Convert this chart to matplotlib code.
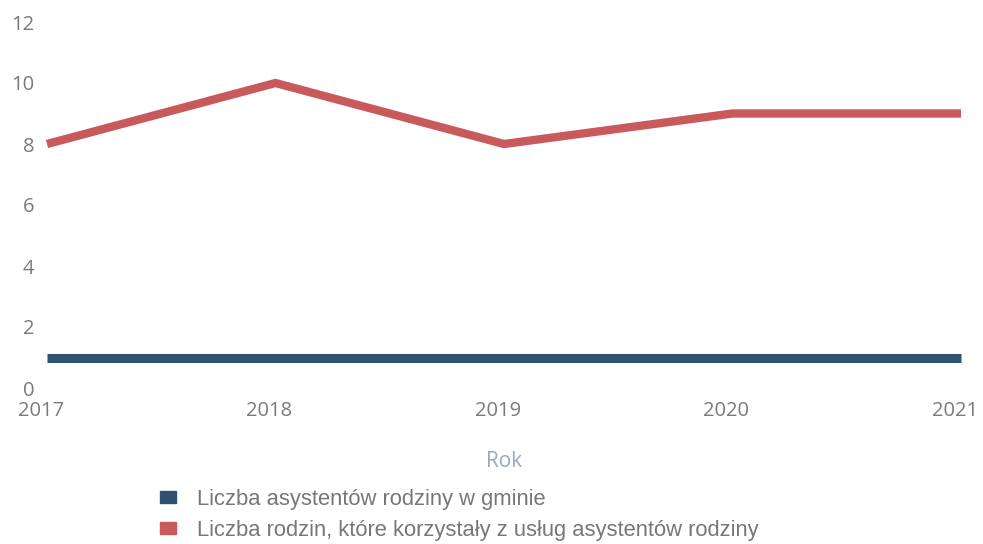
import matplotlib
matplotlib.use("Agg")
import matplotlib.pyplot as plt
from matplotlib.patches import Patch
from matplotlib.transforms import ScaledTranslation

years = [2017, 2018, 2019, 2020, 2021]
asystenci = [1, 1, 1, 1, 1]
rodziny = [8, 10, 8, 9, 9]
yticks = [0, 2, 4, 6, 8, 10, 12]
label_a = "Liczba asystentów rodziny w gminie"
label_r = "Liczba rodzin, które korzystały z usług asystentów rodziny"
blue = "#2f5272"
red = "#c95a5c"
tick_color = "#7a7a7a"

plt.rcParams['font.family'] = ['Open Sans', 'DejaVu Sans']

W, H = 983, 544
fig = plt.figure(figsize=(W / 100, H / 100), dpi=100)
left, right = 47 / W, 961 / W
bottom, top = 1 - 388 / H, 1 - 22 / H
ax = fig.add_axes([left, bottom, right - left, top - bottom])

ax.plot(years, asystenci, color=blue, lw=6.5, solid_capstyle='butt', clip_on=False)
ax.plot(years, rodziny, color=red, lw=6, solid_capstyle='butt', solid_joinstyle='miter', clip_on=False)

ax.set_xlim(years[0], years[-1])
ax.set_ylim(0, 12)
ax.set_yticks(yticks)
ax.set_xticks(years)
ax.set_xticklabels([str(y) for y in years])
for s in ax.spines.values():
    s.set_visible(False)
ax.tick_params(axis='both', length=0, colors=tick_color, labelsize=14.5)
ax.tick_params(axis='y', pad=9)
ax.tick_params(axis='x', pad=9)
shift = ScaledTranslation(-6 / 100, 0, fig.dpi_scale_trans)
for lbl in ax.get_xticklabels():
    lbl.set_transform(lbl.get_transform() + shift)
ax.set_xlabel("Rok", color="#9aa6c8", fontsize=15, labelpad=22)

handles = [Patch(color=blue, label=label_a), Patch(color=red, label=label_r)]
leg = fig.legend(handles=handles, loc='upper left', bbox_to_anchor=(160 / W, 1 - 489 / H),
                 frameon=False, handlelength=0.73, handleheight=0.45,
                 handletextpad=0.95, labelspacing=0.45, borderpad=0, borderaxespad=0,
                 prop={'family': ['Liberation Sans', 'DejaVu Sans'], 'size': 15.8})
for t in leg.get_texts():
    t.set_color("#777777")

fig.savefig("out.png", dpi=100)
